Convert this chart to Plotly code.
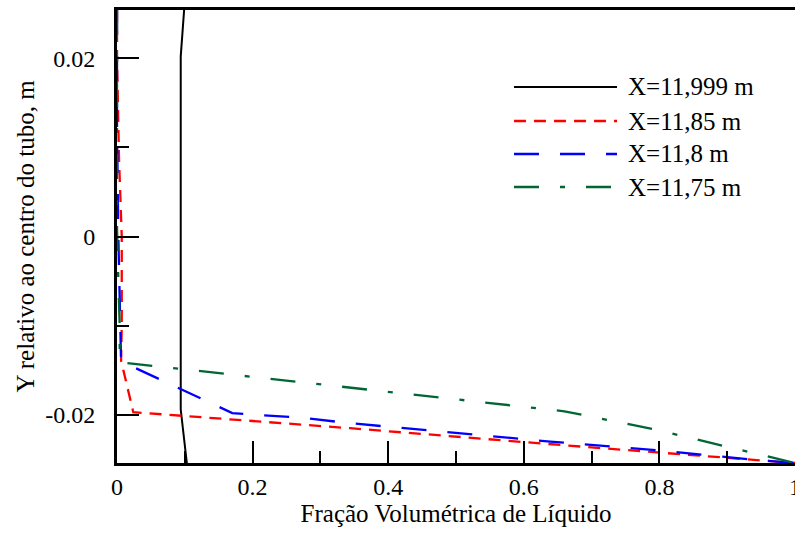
import plotly.graph_objects as go

# Data
names = ["X=11,999 m", "X=11,85 m", "X=11,8 m", "X=11,75 m"]

x_11999 = [0.099, 0.094, 0.094, 0.103]
y_11999 = [0.0254, 0.0202, -0.0194, -0.0254]

x_1185 = [0.0, 0.0, 0.003, 0.007, 0.007, 0.006, 0.024, 0.344, 0.658, 0.80, 0.885, 1.0]
y_1185 = [0.0254, 0.020, 0.0087, 0.0, -0.0099, -0.0139, -0.0197, -0.0215, -0.0234, -0.0242, -0.0247, -0.0254]

x_118 = [0.0, 0.0, 0.002, 0.004, 0.006, 0.17, 0.2035, 0.27, 0.339, 0.639, 0.737, 0.80, 0.934, 1.0]
y_118 = [0.0254, 0.012, 0.0, -0.006, -0.014, -0.0198, -0.020, -0.0203, -0.0209, -0.023, -0.0236, -0.024, -0.025, -0.0254]

x_1175 = [0.0, 0.0, 0.002, 0.004, 0.004, 0.66, 0.797, 0.90, 1.0]
y_1175 = [0.0254, 0.001, -0.005, -0.010, -0.0141, -0.0196, -0.0217, -0.0236, -0.0254]

x_ticks = [0, 0.2, 0.4, 0.6, 0.8, 1]
x_ticklabels = ["0", "0.2", "0.4", "0.6", "0.8", "1"]
y_ticks = [-0.02, 0, 0.02]
y_ticklabels = ["-0.02", "0", "0.02"]

colors = ["black", "#ff0000", "#0000ff", "#006633"]
dashes = ["solid", "12px,8px", "25px,21px", "25px,21px,5px,21px"]
widths = [2, 2.3, 2.3, 2.3]

series = [(x_11999, y_11999), (x_1185, y_1185), (x_118, y_118), (x_1175, y_1175)]

FONT = "Liberation Serif"
TICK = 24
TXT = 25
fig = go.Figure()
for (xs, ys), n, c, d, w in zip(series, names, colors, dashes, widths):
    fig.add_trace(go.Scatter(x=xs, y=ys, mode="lines", name=n, showlegend=False,
                             line=dict(color=c, dash=d, width=w)))

# Manual legend (long line samples like the reference)
W, H = 795, 533
L, R, T, B = 117, 0, 10, 70
pw, ph = W - L - R, H - T - B
def px2paper_x(px):
    return (px - L) / pw
def px2paper_y(py):
    return (H - B - py) / ph

rows = [87, 121, 154, 187]
for n, c, d, w, ry in zip(names, colors, dashes, widths, rows):
    fig.add_shape(type="line", xref="paper", yref="paper",
                  x0=px2paper_x(514), x1=px2paper_x(617),
                  y0=px2paper_y(ry), y1=px2paper_y(ry),
                  line=dict(color=c, dash=d, width=w))
    fig.add_annotation(xref="paper", yref="paper", x=px2paper_x(626), y=px2paper_y(ry),
                       text=n, showarrow=False, xanchor="left", yanchor="middle",
                       font=dict(family=FONT, size=TXT, color="black"))

fig.update_layout(
    width=W, height=H,
    margin=dict(l=L, r=R, t=T, b=B, autoexpand=False),
    paper_bgcolor="white", plot_bgcolor="white",
    font=dict(family=FONT, size=TXT, color="black"),
    showlegend=False,
)
fig.update_xaxes(
    range=[0, 1], showgrid=False, zeroline=False,
    showline=True, linecolor="black", linewidth=3, mirror=True,
    tickmode="array", tickvals=x_ticks, ticktext=x_ticklabels,
    ticks="inside", ticklen=22, tickwidth=2, tickcolor="black",
    minor=dict(tickmode="array", tickvals=[0.1, 0.3, 0.5, 0.7, 0.9],
               ticks="inside", ticklen=12, tickwidth=2, tickcolor="black"),
    tickfont=dict(family=FONT, size=TICK), ticklabeloverflow="allow",
    title=dict(text="Fração Volumétrica de Líquido", font=dict(family=FONT, size=TXT), standoff=0),
)
fig.update_yaxes(
    range=[-0.0254, 0.0254], showgrid=False, zeroline=False,
    showline=True, linecolor="black", linewidth=3,
    tickmode="array", tickvals=y_ticks, ticktext=y_ticklabels,
    ticks="inside", ticklen=22, tickwidth=2, tickcolor="black",
    minor=dict(tickmode="array", tickvals=[-0.01, 0.01],
               ticks="inside", ticklen=12, tickwidth=2, tickcolor="black"),
    tickfont=dict(family=FONT, size=TICK), ticklabelstandoff=14, ticklabeloverflow="allow",
    title=dict(text="Y relativo ao centro do tubo, m", font=dict(family=FONT, size=TXT), standoff=4),
)

fig.write_html("out.html")
